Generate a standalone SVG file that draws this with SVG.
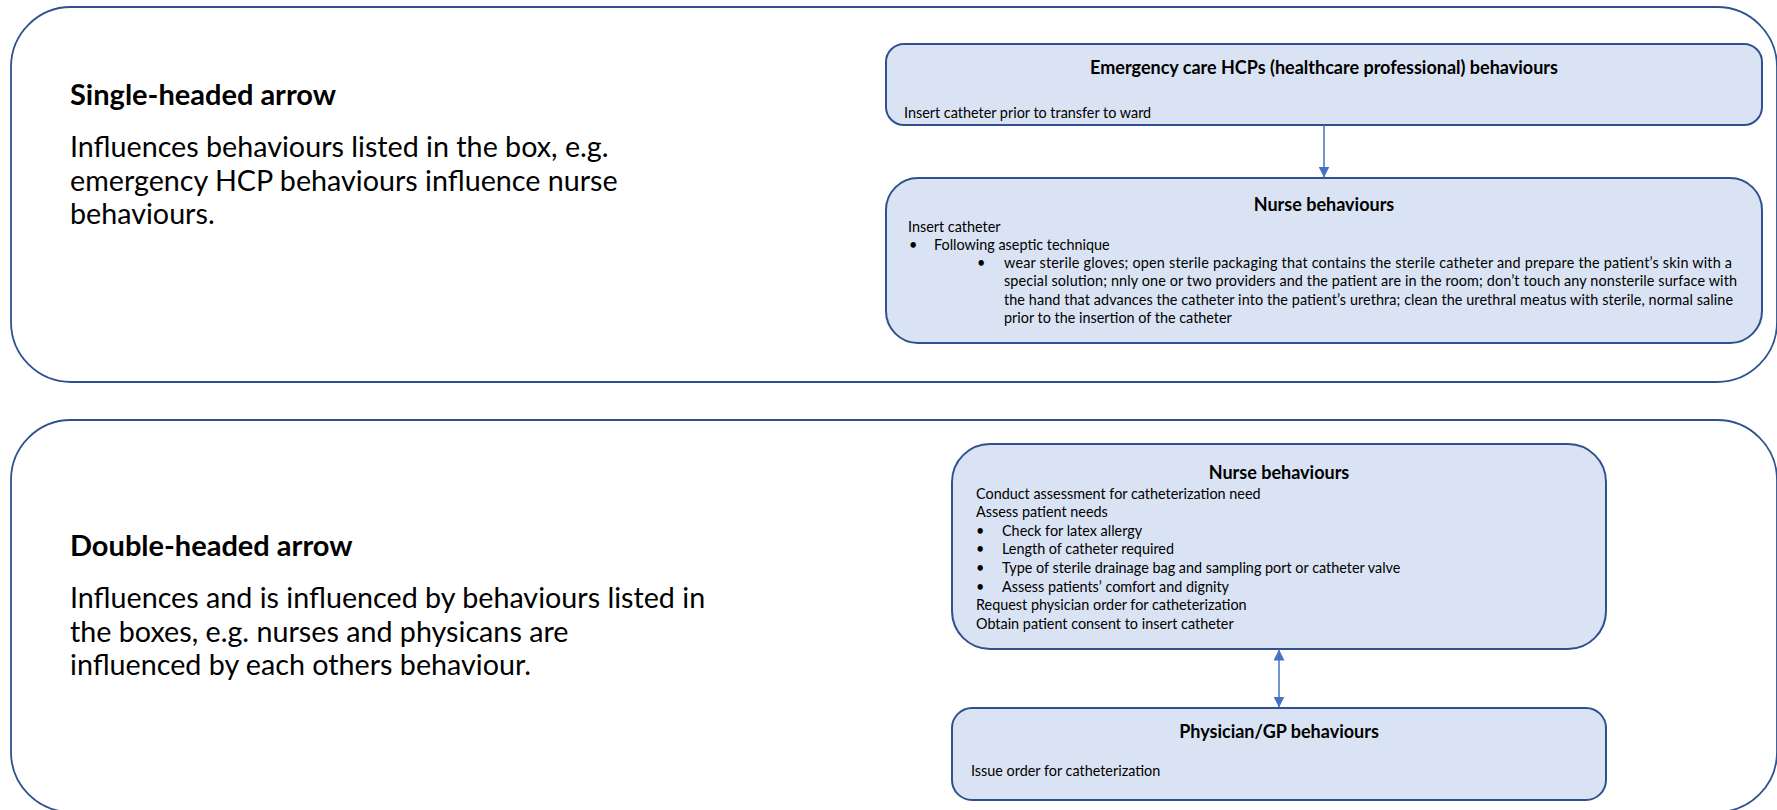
<svg xmlns="http://www.w3.org/2000/svg" width="1777" height="810" viewBox="0 0 1777 810">
<style>
.outer{fill:#ffffff;stroke:#2F528F;stroke-width:1.8}
.box{fill:#DAE3F3;stroke:#2F528F;stroke-width:2}
.lt{font-family:Lato,"Liberation Sans",sans-serif;font-size:28.7px;fill:#000}
.lh{font-family:Lato,"Liberation Sans",sans-serif;font-size:29px;font-weight:bold;fill:#000}
.t{font-family:Lato,"Liberation Sans",sans-serif;font-size:14.4px;fill:#000}
.h{font-family:Lato,"Liberation Sans",sans-serif;font-size:18px;font-weight:bold;fill:#000;text-anchor:middle}
.conn{stroke:#4472C4;stroke-width:1.5;fill:none}
</style>
<defs>
<marker id="ah" markerWidth="11" markerHeight="11" refX="11" refY="5.5" orient="auto-start-reverse" markerUnits="userSpaceOnUse">
<path d="M0,0 L11,5.5 L0,11 z" fill="#4472C4"/>
</marker>
</defs>
<g id="panel-single">
<rect class="outer" x="11" y="7" width="1766" height="375" rx="60" ry="60"/>
<text class="lh" x="70" y="105">Single-headed arrow</text>
<text class="lt" x="70" y="157">Influences behaviours listed in the box, e.g.</text>
<text class="lt" x="70" y="191">emergency HCP behaviours influence nurse</text>
<text class="lt" x="70" y="224">behaviours.</text>
</g>
<g id="panel-double">
<rect class="outer" x="11" y="420" width="1766" height="392" rx="60" ry="60"/>
<text class="lh" x="70" y="556">Double-headed arrow</text>
<text class="lt" x="70" y="608">Influences and is influenced by behaviours listed in</text>
<text class="lt" x="70" y="642">the boxes, e.g. nurses and physicans are</text>
<text class="lt" x="70" y="675">influenced by each others behaviour.</text>
</g>
<g id="node-emergency">
<rect class="box" x="886" y="44" width="876" height="81" rx="18" ry="18"/>
<text class="h" x="1324" y="74">Emergency care HCPs (healthcare professional) behaviours</text>
<text class="t" x="904" y="117.5">Insert catheter prior to transfer to ward</text>
</g>
<g id="node-nurse1">
<rect class="box" x="886" y="178" width="876" height="165" rx="32" ry="32"/>
<text class="h" x="1324" y="211">Nurse behaviours</text>
<text class="t" x="908" y="231.5">Insert catheter</text>
<text class="t" x="909" y="249.5">•</text>
<text class="t" x="934" y="249.5">Following aseptic technique</text>
<text class="t" x="977" y="268">•</text>
<text class="t" x="1004" y="268" textLength="728" lengthAdjust="spacing">wear sterile gloves; open sterile packaging that contains the sterile catheter and prepare the patient’s skin with a</text>
<text class="t" x="1004" y="286.3" textLength="733" lengthAdjust="spacing">special solution; nnly one or two providers and the patient are in the room; don’t touch any nonsterile surface with</text>
<text class="t" x="1004" y="304.6" textLength="729" lengthAdjust="spacing">the hand that advances the catheter into the patient’s urethra; clean the urethral meatus with sterile, normal saline</text>
<text class="t" x="1004" y="323">prior to the insertion of the catheter</text>
</g>
<g id="node-nurse2">
<rect class="box" x="952" y="444" width="654" height="205" rx="38" ry="38"/>
<text class="h" x="1279" y="479">Nurse behaviours</text>
<text class="t" x="976" y="498.5">Conduct assessment for catheterization need</text>
<text class="t" x="976" y="517.1">Assess patient needs</text>
<text class="t" x="976" y="535.7">•</text>
<text class="t" x="1002" y="535.7">Check for latex allergy</text>
<text class="t" x="976" y="554.3">•</text>
<text class="t" x="1002" y="554.3">Length of catheter required</text>
<text class="t" x="976" y="572.9">•</text>
<text class="t" x="1002" y="572.9">Type of sterile drainage bag and sampling port or catheter valve</text>
<text class="t" x="976" y="591.5">•</text>
<text class="t" x="1002" y="591.5">Assess patients’ comfort and dignity</text>
<text class="t" x="976" y="610.1">Request physician order for catheterization</text>
<text class="t" x="976" y="628.7">Obtain patient consent to insert catheter</text>
</g>
<g id="node-physician">
<rect class="box" x="952" y="708" width="654" height="92" rx="20" ry="20"/>
<text class="h" x="1279" y="738">Physician/GP behaviours</text>
<text class="t" x="971" y="775.5">Issue order for catheterization</text>
</g>
<g id="connectors">
<line class="conn" x1="1324" y1="125" x2="1324" y2="177.5" marker-end="url(#ah)"/>
<line class="conn" x1="1279" y1="649.5" x2="1279" y2="707.5" marker-start="url(#ah)" marker-end="url(#ah)"/>
</g>
</svg>
